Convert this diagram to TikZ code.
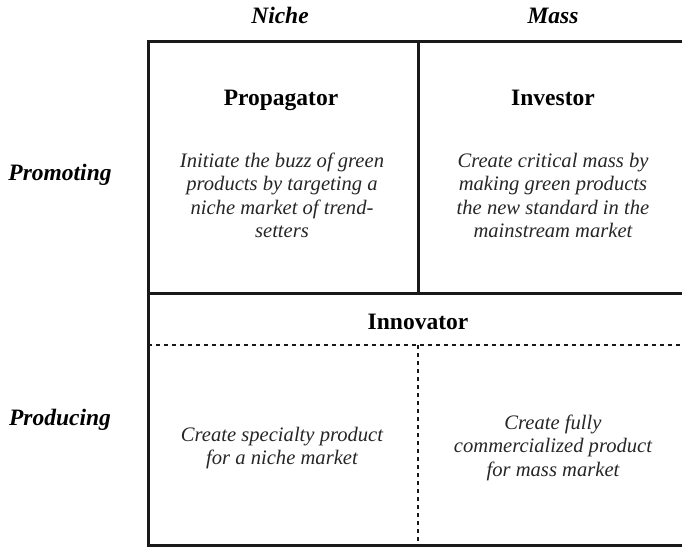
\documentclass[tikz,border=0pt]{standalone}
\usepackage{fontspec}
\setmainfont{Liberation Serif}
\newcommand{\celltext}[1]{\begin{tabular}[t]{@{}c@{}}#1\end{tabular}}
\tikzset{
  frame/.style={line width=3pt, draw=black!90},
  divider/.style={line width=1.5pt, draw=black!90, dash pattern=on 4pt off 4pt},
  head/.style={font=\fontsize{23.5pt}{28pt}\selectfont\bfseries\itshape, anchor=base, inner sep=0pt},
  titletext/.style={font=\fontsize{23.5pt}{28pt}\selectfont\bfseries, anchor=base, inner sep=0pt},
  bodytext/.style={font=\fontsize{20.6pt}{23.5pt}\selectfont\itshape, anchor=base, inner sep=0pt, text=black!85},
}
\begin{document}
\begin{tikzpicture}[x=1pt,y=-1pt]
\useasboundingbox (0,0) rectangle (682,547);
\begin{scope}
\clip (0,0) rectangle (682,547);
\coordinate (tl) at (148,41);
\coordinate (br) at (688,545);
\coordinate (ml) at (148,293);
\coordinate (mr) at (688,293);
\coordinate (vt) at (418,41);
\coordinate (vb) at (418,293);
\coordinate (dl) at (148,345);
\coordinate (dr) at (688,345);
\coordinate (dvt) at (418,345);
\coordinate (dvb) at (418,545);
\draw[divider] (dl) -- (dr);
\draw[divider] (dvt) -- (dvb);
\draw[frame] (tl) rectangle (br);
\draw[frame] (ml) -- (mr);
\draw[frame] (vt) -- (vb);
\end{scope}

\node[head] (niche) at (280,23) {Niche};
\node[head] (mass) at (553,23) {Mass};
\node[head] (promoting) at (60,180) {Promoting};
\node[head] (producing) at (60,425) {Producing};

\node[titletext] (propagator) at (281,105) {Propagator};
\node[titletext] (investor) at (553,105) {Investor};
\node[titletext] (innovator) at (418,329) {Innovator};

\node[bodytext] (proptext) at (282,167) {\celltext{Initiate the buzz of green\\products by targeting a\\niche market of trend-\\setters}};
\node[bodytext] (invtext) at (553,167) {\celltext{Create critical mass by\\making green products\\the new standard in the\\mainstream market}};
\node[bodytext] (nichetext) at (282,441) {\celltext{Create specialty product\\for a niche market}};
\node[bodytext] (masstext) at (553,429) {\celltext{Create fully\\commercialized product\\for mass market}};
\end{tikzpicture}
\end{document}
